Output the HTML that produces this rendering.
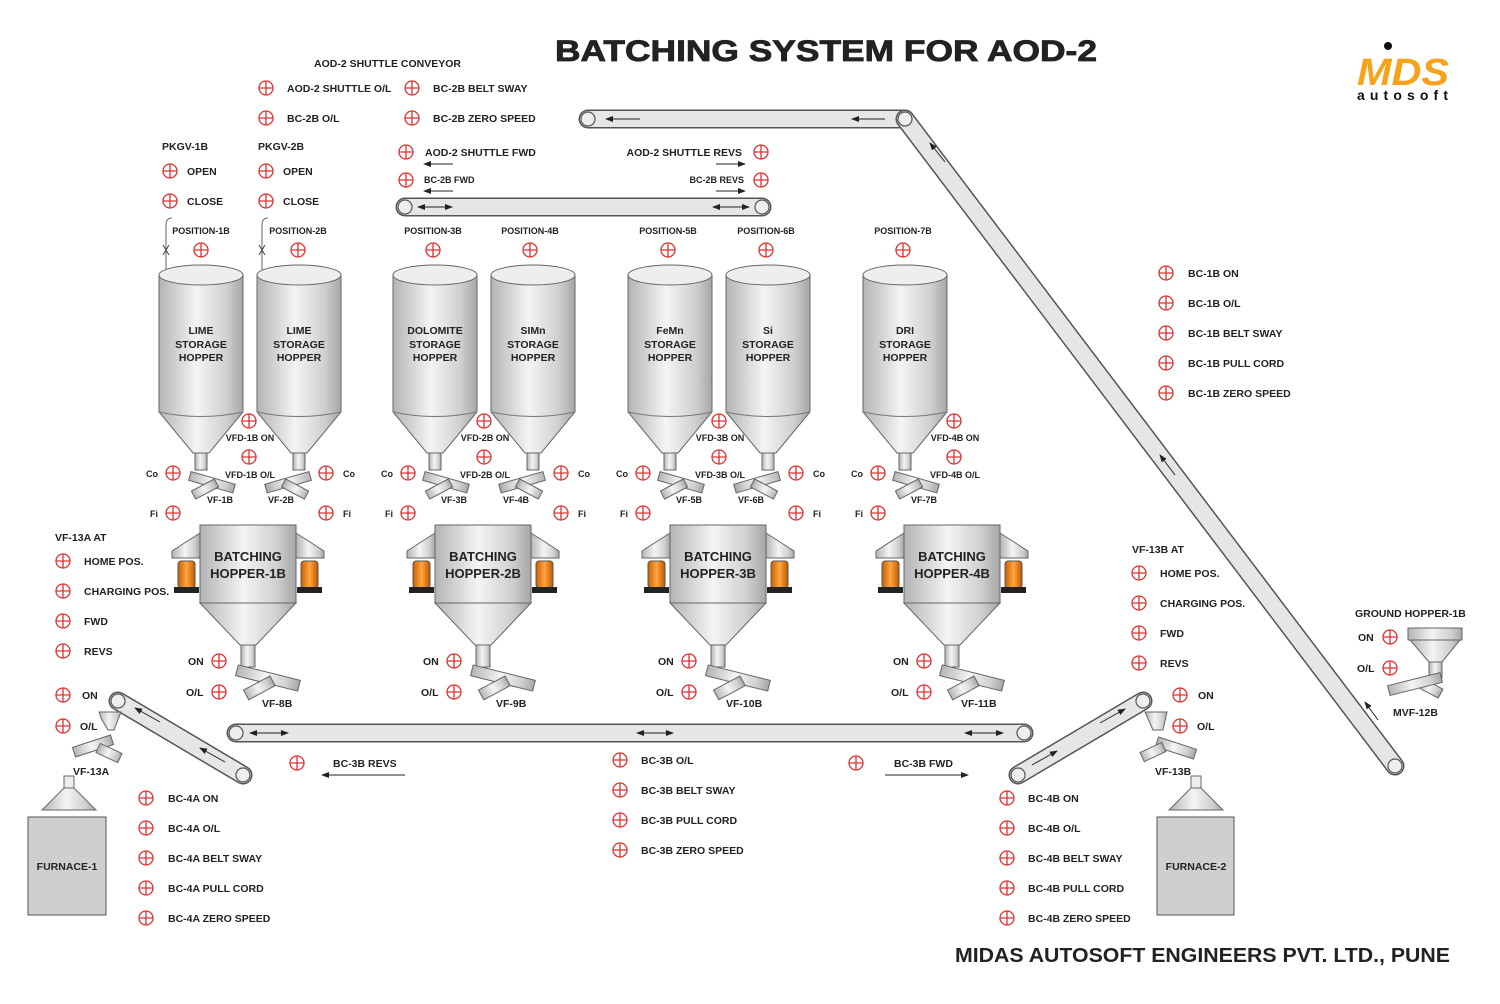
<!DOCTYPE html>
<html><head><meta charset="utf-8"><style>
html,body{margin:0;padding:0;background:#fff}
svg{display:block}
text{font-family:"Liberation Sans",Arial,sans-serif;font-weight:bold;fill:#222}
.s{font-size:10.5px}.xs{font-size:9px}
</style></head><body>
<svg width="1500" height="1004" viewBox="0 0 1500 1004" xmlns="http://www.w3.org/2000/svg">
<defs>
<linearGradient id="g" x1="0" x2="1" y1="0" y2="0"><stop offset="0" stop-color="#b4b4b4"/><stop offset=".45" stop-color="#f4f4f4"/><stop offset=".8" stop-color="#d0d0d0"/><stop offset="1" stop-color="#a6a6a6"/></linearGradient>
<linearGradient id="o" x1="0" x2="1"><stop offset="0" stop-color="#c85f00"/><stop offset=".5" stop-color="#ffa640"/><stop offset="1" stop-color="#c05a00"/></linearGradient>
<g id="p"><circle r="7" fill="#fff" stroke="#e03030" stroke-width="1.3"/><path d="M-7,0H7M0,-7V7" stroke="#e03030" stroke-width="1.3"/></g>
<g id="silo">
<path d="M-42,0V137L-8,178H8L42,137V0Z" fill="url(#g)" stroke="#666"/>
<path d="M-42,137Q0,146 42,137" fill="none" stroke="#777"/>
<ellipse rx="42" ry="10" fill="#eee" stroke="#666"/>
<rect x="-6" y="178" width="12" height="17" fill="url(#g)" stroke="#666"/>
</g>
<g id="fd">
<rect x="-22" y="-4.5" width="46" height="9" fill="url(#g)" stroke="#666" transform="translate(10,12) rotate(16)"/>
<rect x="-13" y="-4.5" width="26" height="9" fill="url(#g)" stroke="#666" transform="translate(4,19) rotate(-28)"/>
</g>
<g id="bh">
<path d="M-48,8L-76,26V33H-48Z" fill="url(#g)" stroke="#666"/>
<path d="M48,8L76,26V33H48Z" fill="url(#g)" stroke="#666"/>
<rect x="-70" y="36" width="17" height="27" rx="3" fill="url(#o)" stroke="#555"/>
<rect x="-74" y="62" width="25" height="6" fill="#222"/>
<rect x="53" y="36" width="17" height="27" rx="3" fill="url(#o)" stroke="#555"/>
<rect x="49" y="62" width="25" height="6" fill="#222"/>
<path d="M-48,78L-8,120H8L48,78Z" fill="url(#g)" stroke="#666"/>
<rect x="-48" y="0" width="96" height="78" fill="url(#g)" stroke="#666"/>
<rect x="-7" y="120" width="14" height="22" fill="url(#g)" stroke="#666"/>
<rect x="-34" y="-5" width="64" height="11" fill="url(#g)" stroke="#666" transform="translate(22,153) rotate(14)"/>
<rect x="-16" y="-5" width="30" height="11" fill="url(#g)" stroke="#666" transform="translate(12,162) rotate(-28)"/>
</g>
<marker id="ah" markerWidth="8" markerHeight="6" refX="7" refY="3" orient="auto"><path d="M0,0L8,3L0,6Z" fill="#222"/></marker>
<marker id="at" markerWidth="8" markerHeight="6" refX="1" refY="3" orient="auto"><path d="M8,0L0,3L8,6Z" fill="#222"/></marker>
</defs>

<text x="555" y="61" font-size="30" textLength="542" lengthAdjust="spacingAndGlyphs" stroke="#222" stroke-width="0.8">BATCHING SYSTEM FOR AOD-2</text>
<text x="955" y="962" font-size="20" textLength="495" lengthAdjust="spacingAndGlyphs">MIDAS AUTOSOFT ENGINEERS PVT. LTD., PUNE</text>
<circle cx="1388" cy="46" r="4" fill="#111"/>
<text x="1357" y="85" font-size="38" font-style="italic" style="fill:#f7a21b" textLength="92" lengthAdjust="spacingAndGlyphs">MDS</text>
<text x="1357" y="100" font-size="14" textLength="91" lengthAdjust="spacing" style="fill:#111">autosoft</text>

<g stroke-linecap="round">
<line x1="588" y1="119" x2="905" y2="119" stroke="#555" stroke-width="19"/><line x1="588" y1="119" x2="905" y2="119" stroke="#e6e6e6" stroke-width="16"/>
<line x1="905" y1="119" x2="1395" y2="766" stroke="#555" stroke-width="19"/><line x1="905" y1="119" x2="1395" y2="766" stroke="#e6e6e6" stroke-width="16"/>
<line x1="405" y1="207" x2="762" y2="207" stroke="#555" stroke-width="19"/><line x1="405" y1="207" x2="762" y2="207" stroke="#e6e6e6" stroke-width="16"/>
<line x1="236" y1="733" x2="1024" y2="733" stroke="#555" stroke-width="19"/><line x1="236" y1="733" x2="1024" y2="733" stroke="#e6e6e6" stroke-width="16"/>
<line x1="118" y1="701" x2="243" y2="775" stroke="#555" stroke-width="19"/><line x1="118" y1="701" x2="243" y2="775" stroke="#e6e6e6" stroke-width="16"/>
<line x1="1018" y1="775" x2="1143" y2="701" stroke="#555" stroke-width="19"/><line x1="1018" y1="775" x2="1143" y2="701" stroke="#e6e6e6" stroke-width="16"/>
</g>
<g fill="#eee" stroke="#555" stroke-width="1.2">
<circle cx="588" cy="119" r="7"/><circle cx="905" cy="119" r="7"/><circle cx="1395" cy="766" r="7"/>
<circle cx="405" cy="207" r="7"/><circle cx="762" cy="207" r="7"/>
<circle cx="236" cy="733" r="7"/><circle cx="1024" cy="733" r="7"/>
<circle cx="118" cy="701" r="7"/><circle cx="243" cy="775" r="7"/>
<circle cx="1018" cy="775" r="7"/><circle cx="1143" cy="701" r="7"/>
</g>
<g stroke="#222" stroke-width="1">
<line x1="640" y1="119" x2="606" y2="119" marker-end="url(#ah)"/>
<line x1="885" y1="119" x2="852" y2="119" marker-end="url(#ah)"/>
<line x1="945" y1="162" x2="930" y2="143" marker-end="url(#ah)"/>
<line x1="1175" y1="475" x2="1160" y2="455" marker-end="url(#ah)"/>
<line x1="1378" y1="720" x2="1365" y2="702" marker-end="url(#ah)"/>
<line x1="418" y1="207" x2="452" y2="207" marker-start="url(#at)" marker-end="url(#ah)"/>
<line x1="713" y1="207" x2="749" y2="207" marker-start="url(#at)" marker-end="url(#ah)"/>
<line x1="250" y1="733" x2="288" y2="733" marker-start="url(#at)" marker-end="url(#ah)"/>
<line x1="637" y1="733" x2="673" y2="733" marker-start="url(#at)" marker-end="url(#ah)"/>
<line x1="965" y1="733" x2="1003" y2="733" marker-start="url(#at)" marker-end="url(#ah)"/>
<line x1="160" y1="722" x2="135" y2="708" marker-end="url(#ah)"/>
<line x1="225" y1="762" x2="200" y2="748" marker-end="url(#ah)"/>
<line x1="1032" y1="765" x2="1057" y2="751" marker-end="url(#ah)"/>
<line x1="1100" y1="723" x2="1125" y2="709" marker-end="url(#ah)"/>
<line x1="453" y1="164" x2="424" y2="164" marker-end="url(#ah)"/>
<line x1="453" y1="191" x2="424" y2="191" marker-end="url(#ah)"/>
<line x1="716" y1="164" x2="745" y2="164" marker-end="url(#ah)"/>
<line x1="716" y1="191" x2="745" y2="191" marker-end="url(#ah)"/>
<line x1="405" y1="775" x2="322" y2="775" marker-end="url(#ah)"/>
<line x1="885" y1="775" x2="968" y2="775" marker-end="url(#ah)"/>
</g>

<path d="M166,275V225Q166,218 172,218M262,275V225Q262,218 268,218" fill="none" stroke="#666"/>
<path d="M163,245L169,255M169,245L163,255M259,245L265,255M265,245L259,255" stroke="#444"/>
<use href="#silo" x="201" y="275"/><use href="#silo" x="299" y="275"/>
<use href="#silo" x="435" y="275"/><use href="#silo" x="533" y="275"/>
<use href="#silo" x="670" y="275"/><use href="#silo" x="768" y="275"/>
<use href="#silo" x="905" y="275"/>
<use href="#fd" x="201" y="470"/><use href="#fd" transform="translate(299,470) scale(-1,1)"/>
<use href="#fd" x="435" y="470"/><use href="#fd" transform="translate(533,470) scale(-1,1)"/>
<use href="#fd" x="670" y="470"/><use href="#fd" transform="translate(768,470) scale(-1,1)"/>
<use href="#fd" x="905" y="470"/>
<g class="s" text-anchor="middle">
<text x="201" y="334">LIME</text><text x="201" y="348">STORAGE</text><text x="201" y="361">HOPPER</text>
<text x="299" y="334">LIME</text><text x="299" y="348">STORAGE</text><text x="299" y="361">HOPPER</text>
<text x="435" y="334">DOLOMITE</text><text x="435" y="348">STORAGE</text><text x="435" y="361">HOPPER</text>
<text x="533" y="334">SIMn</text><text x="533" y="348">STORAGE</text><text x="533" y="361">HOPPER</text>
<text x="670" y="334">FeMn</text><text x="670" y="348">STORAGE</text><text x="670" y="361">HOPPER</text>
<text x="768" y="334">Si</text><text x="768" y="348">STORAGE</text><text x="768" y="361">HOPPER</text>
<text x="905" y="334">DRI</text><text x="905" y="348">STORAGE</text><text x="905" y="361">HOPPER</text>
</g>
<g class="xs" text-anchor="middle">
<text x="201" y="234">POSITION-1B</text><text x="298" y="234">POSITION-2B</text><text x="433" y="234">POSITION-3B</text>
<text x="530" y="234">POSITION-4B</text><text x="668" y="234">POSITION-5B</text><text x="766" y="234">POSITION-6B</text><text x="903" y="234">POSITION-7B</text>
<text x="220" y="503">VF-1B</text><text x="281" y="503">VF-2B</text><text x="454" y="503">VF-3B</text><text x="516" y="503">VF-4B</text>
<text x="689" y="503">VF-5B</text><text x="751" y="503">VF-6B</text><text x="924" y="503">VF-7B</text>
<text x="250" y="441">VFD-1B ON</text><text x="250" y="478">VFD-1B O/L</text>
<text x="485" y="441">VFD-2B ON</text><text x="485" y="478">VFD-2B O/L</text>
<text x="720" y="441">VFD-3B ON</text><text x="720" y="478">VFD-3B O/L</text>
<text x="955" y="441">VFD-4B ON</text><text x="955" y="478">VFD-4B O/L</text>
</g>
<g>
<use href="#p" x="201" y="250"/><use href="#p" x="298" y="250"/><use href="#p" x="433" y="250"/><use href="#p" x="530" y="250"/>
<use href="#p" x="668" y="250"/><use href="#p" x="766" y="250"/><use href="#p" x="903" y="250"/>
<use href="#p" x="249" y="421"/><use href="#p" x="249" y="457"/><use href="#p" x="484" y="421"/><use href="#p" x="484" y="457"/>
<use href="#p" x="719" y="421"/><use href="#p" x="719" y="457"/><use href="#p" x="954" y="421"/><use href="#p" x="954" y="457"/>
<use href="#p" x="173" y="473"/><use href="#p" x="173" y="513"/><use href="#p" x="326" y="473"/><use href="#p" x="326" y="513"/>
<use href="#p" x="408" y="473"/><use href="#p" x="408" y="513"/><use href="#p" x="561" y="473"/><use href="#p" x="561" y="513"/>
<use href="#p" x="643" y="473"/><use href="#p" x="643" y="513"/><use href="#p" x="796" y="473"/><use href="#p" x="796" y="513"/>
<use href="#p" x="878" y="473"/><use href="#p" x="878" y="513"/>
</g>
<g class="xs">
<text x="146" y="477">Co</text><text x="150" y="517">Fi</text><text x="343" y="477">Co</text><text x="343" y="517">Fi</text>
<text x="381" y="477">Co</text><text x="385" y="517">Fi</text><text x="578" y="477">Co</text><text x="578" y="517">Fi</text>
<text x="616" y="477">Co</text><text x="620" y="517">Fi</text><text x="813" y="477">Co</text><text x="813" y="517">Fi</text>
<text x="851" y="477">Co</text><text x="855" y="517">Fi</text>
</g>

<use href="#bh" x="248" y="525"/><use href="#bh" x="483" y="525"/><use href="#bh" x="718" y="525"/><use href="#bh" x="952" y="525"/>
<g font-size="13" text-anchor="middle">
<text x="248" y="561">BATCHING</text><text x="248" y="578">HOPPER-1B</text>
<text x="483" y="561">BATCHING</text><text x="483" y="578">HOPPER-2B</text>
<text x="718" y="561">BATCHING</text><text x="718" y="578">HOPPER-3B</text>
<text x="952" y="561">BATCHING</text><text x="952" y="578">HOPPER-4B</text>
</g>
<g class="s">
<text x="188" y="665">ON</text><text x="186" y="696">O/L</text><text x="262" y="707">VF-8B</text>
<text x="423" y="665">ON</text><text x="421" y="696">O/L</text><text x="496" y="707">VF-9B</text>
<text x="658" y="665">ON</text><text x="656" y="696">O/L</text><text x="726" y="707">VF-10B</text>
<text x="893" y="665">ON</text><text x="891" y="696">O/L</text><text x="961" y="707">VF-11B</text>
</g>
<use href="#p" x="219" y="661"/><use href="#p" x="219" y="692"/><use href="#p" x="454" y="661"/><use href="#p" x="454" y="692"/>
<use href="#p" x="689" y="661"/><use href="#p" x="689" y="692"/><use href="#p" x="924" y="661"/><use href="#p" x="924" y="692"/>

<g class="s">
<text x="314" y="67">AOD-2 SHUTTLE CONVEYOR</text>
<text x="287" y="92">AOD-2 SHUTTLE O/L</text><text x="433" y="92">BC-2B BELT SWAY</text>
<text x="287" y="122">BC-2B O/L</text><text x="433" y="122">BC-2B ZERO SPEED</text>
<text x="162" y="150">PKGV-1B</text><text x="258" y="150">PKGV-2B</text>
<text x="187" y="175">OPEN</text><text x="283" y="175">OPEN</text>
<text x="187" y="205">CLOSE</text><text x="283" y="205">CLOSE</text>
<text x="425" y="156">AOD-2 SHUTTLE FWD</text><text x="742" y="156" text-anchor="end">AOD-2 SHUTTLE REVS</text>
</g>
<text class="xs" x="424" y="183">BC-2B FWD</text><text class="xs" x="744" y="183" text-anchor="end">BC-2B REVS</text>
<use href="#p" x="266" y="88"/><use href="#p" x="412" y="88"/><use href="#p" x="266" y="118"/><use href="#p" x="412" y="118"/>
<use href="#p" x="170" y="171"/><use href="#p" x="266" y="171"/><use href="#p" x="170" y="201"/><use href="#p" x="266" y="201"/>
<use href="#p" x="406" y="152"/><use href="#p" x="761" y="152"/><use href="#p" x="406" y="180"/><use href="#p" x="761" y="180"/>

<g class="s"><text x="1188" y="277">BC-1B ON</text><text x="1188" y="307">BC-1B O/L</text><text x="1188" y="337">BC-1B BELT SWAY</text><text x="1188" y="367">BC-1B PULL CORD</text><text x="1188" y="397">BC-1B ZERO SPEED</text></g>
<use href="#p" x="1166" y="273"/><use href="#p" x="1166" y="303"/><use href="#p" x="1166" y="333"/><use href="#p" x="1166" y="363"/><use href="#p" x="1166" y="393"/>

<g class="s">
<text x="55" y="541">VF-13A AT</text>
<text x="84" y="565">HOME POS.</text><text x="84" y="595">CHARGING POS.</text><text x="84" y="625">FWD</text><text x="84" y="655">REVS</text>
<text x="82" y="699">ON</text><text x="80" y="730">O/L</text><text x="73" y="775">VF-13A</text>
</g>
<use href="#p" x="63" y="561"/><use href="#p" x="63" y="591"/><use href="#p" x="63" y="621"/><use href="#p" x="63" y="651"/>
<use href="#p" x="63" y="695"/><use href="#p" x="63" y="726"/>
<path d="M101,718L99,712H121L114,730H108Z" fill="url(#g)" stroke="#666"/>
<rect x="-20" y="-5" width="40" height="10" fill="url(#g)" stroke="#666" transform="translate(93,746) rotate(-18)"/>
<rect x="-12" y="-5" width="24" height="10" fill="url(#g)" stroke="#666" transform="translate(109,753) rotate(25)"/>
<rect x="64" y="776" width="10" height="12" fill="#eee" stroke="#666"/>
<path d="M64,788H74L96,810H42Z" fill="url(#g)" stroke="#666"/>
<rect x="28" y="817" width="78" height="98" fill="#cfcfcf" stroke="#555"/>
<text class="s" x="67" y="870" text-anchor="middle">FURNACE-1</text>
<g class="s"><text x="168" y="802">BC-4A ON</text><text x="168" y="832">BC-4A O/L</text><text x="168" y="862">BC-4A BELT SWAY</text><text x="168" y="892">BC-4A PULL CORD</text><text x="168" y="922">BC-4A ZERO SPEED</text></g>
<use href="#p" x="146" y="798"/><use href="#p" x="146" y="828"/><use href="#p" x="146" y="858"/><use href="#p" x="146" y="888"/><use href="#p" x="146" y="918"/>

<g class="s">
<text x="333" y="767">BC-3B REVS</text><text x="894" y="767">BC-3B FWD</text>
<text x="641" y="764">BC-3B O/L</text><text x="641" y="794">BC-3B BELT SWAY</text><text x="641" y="824">BC-3B PULL CORD</text><text x="641" y="854">BC-3B ZERO SPEED</text>
</g>
<use href="#p" x="297" y="763"/><use href="#p" x="856" y="763"/>
<use href="#p" x="620" y="760"/><use href="#p" x="620" y="790"/><use href="#p" x="620" y="820"/><use href="#p" x="620" y="850"/>

<g class="s">
<text x="1132" y="553">VF-13B AT</text>
<text x="1160" y="577">HOME POS.</text><text x="1160" y="607">CHARGING POS.</text><text x="1160" y="637">FWD</text><text x="1160" y="667">REVS</text>
<text x="1198" y="699">ON</text><text x="1197" y="730">O/L</text><text x="1155" y="775">VF-13B</text>
</g>
<use href="#p" x="1139" y="573"/><use href="#p" x="1139" y="603"/><use href="#p" x="1139" y="633"/><use href="#p" x="1139" y="663"/>
<use href="#p" x="1180" y="695"/><use href="#p" x="1180" y="726"/>
<path d="M1153,730L1145,712H1167L1163,730Z" fill="url(#g)" stroke="#666"/>
<rect x="-20" y="-5" width="40" height="10" fill="url(#g)" stroke="#666" transform="translate(1176,748) rotate(18)"/>
<rect x="-12" y="-5" width="24" height="10" fill="url(#g)" stroke="#666" transform="translate(1153,752) rotate(-25)"/>
<rect x="1191" y="776" width="10" height="12" fill="#eee" stroke="#666"/>
<path d="M1191,788H1201L1223,810H1169Z" fill="url(#g)" stroke="#666"/>
<rect x="1157" y="817" width="77" height="98" fill="#cfcfcf" stroke="#555"/>
<text class="s" x="1196" y="870" text-anchor="middle">FURNACE-2</text>
<g class="s"><text x="1028" y="802">BC-4B ON</text><text x="1028" y="832">BC-4B O/L</text><text x="1028" y="862">BC-4B BELT SWAY</text><text x="1028" y="892">BC-4B PULL CORD</text><text x="1028" y="922">BC-4B ZERO SPEED</text></g>
<use href="#p" x="1007" y="798"/><use href="#p" x="1007" y="828"/><use href="#p" x="1007" y="858"/><use href="#p" x="1007" y="888"/><use href="#p" x="1007" y="918"/>

<g class="s"><text x="1355" y="617">GROUND HOPPER-1B</text><text x="1358" y="641">ON</text><text x="1357" y="672">O/L</text><text x="1393" y="716">MVF-12B</text></g>
<use href="#p" x="1390" y="637"/><use href="#p" x="1390" y="668"/>
<rect x="1408" y="628" width="54" height="12" fill="url(#g)" stroke="#666"/>
<path d="M1410,640H1460L1442,662H1429Z" fill="url(#g)" stroke="#666"/>
<rect x="1429" y="662" width="13" height="16" fill="url(#g)" stroke="#666"/>
<rect x="-12" y="-5" width="24" height="10" fill="url(#g)" stroke="#666" transform="translate(1430,688) rotate(28)"/>
<rect x="-27" y="-5" width="54" height="10" fill="url(#g)" stroke="#666" transform="translate(1415,684) rotate(-14)"/>
</svg>
</body></html>
